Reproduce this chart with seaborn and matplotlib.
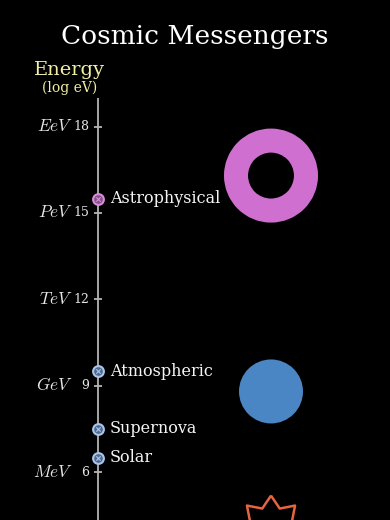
import matplotlib
matplotlib.use("Agg")
import matplotlib.pyplot as plt
import seaborn as sns
import pandas as pd
from matplotlib.path import Path
import numpy as np

# ---- data ----
sources = ["Astrophysical", "Atmospheric", "Supernova", "Solar"]
source_log_energy = [15.5, 9.5, 7.5, 6.5]
source_family = ["astro", "terrestrial", "terrestrial", "terrestrial"]
tick_values = [18, 15, 12, 9, 6]
tick_units = ["EeV", "PeV", "TeV", "GeV", "MeV"]
shape_kinds = ["ring", "disc", "star"]
shape_log_energy = [16.3, 8.8, 4.0]

# ---- style ----
sns.set_theme(style="dark")
plt.rcParams["font.family"] = ["DejaVu Serif"]
plt.rcParams["mathtext.fontset"] = "cm"

BG = "black"
AXIS_X = 98.3
SHAPE_X = 271
AXIS_TOP = 19.0
YLIM = (4.334, 22.40)

fig = plt.figure(figsize=(3.9, 5.2), dpi=100, facecolor=BG)
ax = fig.add_axes([0, 0, 1, 1])
ax.set_facecolor(BG)
ax.set_xlim(0, 390)
ax.set_ylim(*YLIM)
ax.axis("off")

# axis line and ticks
ax.vlines(AXIS_X, YLIM[0], AXIS_TOP, color="#b4b4b4", lw=1.3, zorder=1)
ax.hlines(tick_values, AXIS_X - 4, AXIS_X + 4, color="#b4b4b4", lw=1.3, zorder=1)
for v, u in zip(tick_values, tick_units):
    ax.text(AXIS_X - 9, v, str(v), color="#e6e6e6", fontsize=9,
            ha="right", va="center")
    ax.text(AXIS_X - 25.5, v, f"${u}$", color="#e6e6e6", fontsize=12.5,
            ha="right", va="center")

# axis title
fig.text(69 / 390, 1 - 75 / 520, "Energy", color="#f2eea2", fontsize=14,
         ha="center", va="baseline")
fig.text(69.5 / 390, 1 - 92 / 520, "(log eV)", color="#f2eea2", fontsize=10,
         ha="center", va="baseline")

# title
fig.text(194.5 / 390, 1 - 44 / 520, "Cosmic Messengers", color="white",
         fontsize=19, ha="center", va="baseline")

# source points
df = pd.DataFrame({"source": sources, "log_energy": source_log_energy,
                   "family": source_family})
df["x"] = AXIS_X
face = {"astro": "#86508a", "terrestrial": "#4f6a8f"}
edge = {"astro": "#d98ad9", "terrestrial": "#a9c6ea"}
for fam, sub in df.groupby("family"):
    sns.scatterplot(data=sub, x="x", y="log_energy", ax=ax, s=60, marker="o",
                    color=face[fam], edgecolor=edge[fam], linewidth=1.5,
                    zorder=3, legend=False)
    sns.scatterplot(data=sub, x="x", y="log_energy", ax=ax, s=10, marker="x",
                    color=edge[fam], linewidth=0.8, zorder=4, legend=False)
for name, v in zip(sources, source_log_energy):
    ax.text(AXIS_X + 11.5, v, name, color="#f4f4f4", fontsize=11.5,
            ha="left", va="center")

# big shapes
shapes = pd.DataFrame({"kind": shape_kinds, "log_energy": shape_log_energy})
shapes["x"] = SHAPE_X

ring = shapes[shapes.kind == "ring"]
sns.scatterplot(data=ring, x="x", y="log_energy", ax=ax, marker="o", s=2540,
                facecolor="none", edgecolor="#cf6fcf", linewidth=17.3,
                zorder=2, legend=False)

disc = shapes[shapes.kind == "disc"]
sns.scatterplot(data=disc, x="x", y="log_energy", ax=ax, marker="o", s=2124,
                color="#4a85c4", edgecolor="none", linewidth=0, zorder=2,
                legend=False)

n = 8
ang = np.pi / 2 + np.arange(2 * n) * np.pi / n
rad = np.where(np.arange(2 * n) % 2 == 0, 1.0, 0.67)
verts = np.column_stack([rad * np.cos(ang), rad * np.sin(ang)])
verts = np.vstack([verts, verts[:1]])
codes = [Path.MOVETO] + [Path.LINETO] * (2 * n - 1) + [Path.CLOSEPOLY]
star_marker = Path(verts, codes)

star = shapes[shapes.kind == "star"]
sns.scatterplot(data=star, x="x", y="log_energy", ax=ax, marker=star_marker,
                s=2400, facecolor="none", edgecolor="#e8643f", linewidth=1.8,
                zorder=2, legend=False, clip_on=False)

fig.savefig("out.png", dpi=100, facecolor=BG)
